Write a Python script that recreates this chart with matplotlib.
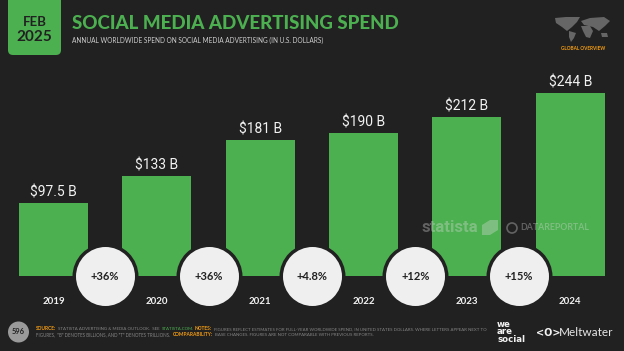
import matplotlib
matplotlib.use("Agg")
import matplotlib.pyplot as plt
import matplotlib.patches as mpatches

# data
years = ["2019", "2020", "2021", "2022", "2023", "2024"]
spend = [97.5, 133, 181, 190, 212, 244]
spend_labels = ["$97.5 B", "$133 B", "$181 B", "$190 B", "$212 B", "$244 B"]
growth_labels = ["+36%", "+36%", "+4.8%", "+12%", "+15%"]

BG = "#212121"
GREEN = "#4CAF50"
ORANGE = "#F39C12"
GREY = "#858585"
W, H = 624, 351
TITLE_FONT = ["Lato", "DejaVu Sans"]
NARROW_FONT = ["Roboto", "DejaVu Sans"]

fig = plt.figure(figsize=(W / 100, H / 100), dpi=100, facecolor=BG)

# page overlay in pixel coords, y down
page = fig.add_axes([0, 0, 1, 1], zorder=0)
page.set_xlim(0, W)
page.set_ylim(H, 0)
page.axis("off")

# chart axes: baseline at y=276, 0.752 px per billion
left, right, top, bottom = 1.75, 622, 50, 276
ax = fig.add_axes([left / W, 1 - bottom / H, (right - left) / W, (bottom - top) / H], zorder=1)
ax.patch.set_alpha(0)
ax.set_xlim(-0.5, 5.5)
ax.set_ylim(0, (bottom - top) / 0.752)
ax.axis("off")

x = list(range(len(years)))
ax.bar(x, spend, width=0.667, color=GREEN, zorder=2)

for i, (v, lab) in enumerate(zip(spend, spend_labels)):
    ax.annotate(lab, (i, v), xytext=(0, 2.5), textcoords="offset points", ha="center", va="bottom",
                color="#F2F2F2", fontsize=10, family=NARROW_FONT, clip_on=False)
    ax.annotate(years[i], (i, 0), xytext=(0, -18.5), textcoords="offset points", ha="center", va="center",
                color="#F2F2F2", fontsize=7, fontweight="bold", family=TITLE_FONT, annotation_clip=False)

mid = [i + 0.5 for i in x[:-1]]
ax.scatter(mid, [0] * len(mid), s=(2 * 33 * 0.72) ** 2, color=BG, zorder=3, clip_on=False, linewidths=0)
ax.scatter(mid, [0] * len(mid), s=(2 * 29.5 * 0.72) ** 2, color="#EFEFEF", zorder=4, clip_on=False, linewidths=0)
for m, lab in zip(mid, growth_labels):
    ax.annotate(lab, (m, 0), ha="center", va="center", color="#222222", fontsize=8,
                fontweight="bold", family=TITLE_FONT, zorder=5, annotation_clip=False)

# date badge
page.add_patch(mpatches.FancyBboxPatch((8, -20), 53, 75, boxstyle="round,pad=0,rounding_size=5",
                                       fc=GREEN, ec="none"))
page.text(34.5, 22, "FEB", ha="center", va="center", fontsize=9.5, fontweight="bold", color=BG, family=TITLE_FONT)
page.text(34.5, 37, "2025", ha="center", va="center", fontsize=11, fontweight="bold", color=BG, family=TITLE_FONT)

# heading
page.text(72, 23.5, "SOCIAL MEDIA ADVERTISING SPEND", ha="left", va="center", fontsize=13.5,
          fontweight="black", color=GREEN, family=TITLE_FONT)
page.text(72, 40, "ANNUAL WORLDWIDE SPEND ON SOCIAL MEDIA ADVERTISING (IN U.S. DOLLARS)", ha="left", va="center",
          fontsize=4.7, color="#CFCFCF", family=TITLE_FONT)

# rough world map
continents = [
    [(555, 18), (566, 17), (580, 17), (577, 22), (572, 27), (567, 31), (562, 27), (556, 23)],
    [(569, 31), (576, 33), (574, 38), (571, 42), (569, 37)],
    [(581, 21), (590, 18), (604, 17), (610, 21), (605, 26), (599, 31), (593, 27), (584, 25)],
    [(581, 26), (590, 26), (593, 31), (590, 38), (586, 37), (583, 31)],
    [(601, 33), (607, 33), (608, 37), (602, 37)],
]
for c in continents:
    page.add_patch(mpatches.Polygon(c, closed=True, fc="#666666", ec="none"))
page.text(583, 48, "GLOBAL OVERVIEW", ha="center", va="center", fontsize=3.4, fontweight="bold",
          color=ORANGE, family=TITLE_FONT)

# watermarks, above the bars
wm = fig.add_axes([0, 0, 1, 1], zorder=2)
wm.set_xlim(0, W)
wm.set_ylim(H, 0)
wm.axis("off")
wm.text(422, 227.5, "statista", ha="left", va="center", fontsize=12, fontweight="bold", color="#DDDDDD",
        alpha=0.35, family=NARROW_FONT)
wm.add_patch(mpatches.Polygon([(482, 235), (482, 225), (490, 220), (498, 220), (498, 230), (490, 235)],
                              closed=True, fc="#DDDDDD", ec="none", alpha=0.35))
wm.add_patch(mpatches.Circle((512, 228), 5, fc="none", ec="#DDDDDD", lw=1.2, alpha=0.35))
wm.text(520, 227, "DATAREPORTAL", ha="left", va="center", fontsize=6.3, fontweight="bold", color="#DDDDDD",
        alpha=0.35, family=TITLE_FONT)

# page number
page.add_patch(mpatches.Circle((18.5, 332), 10.5, fc="#9A9A9A", ec="none"))
page.text(18.5, 332, "596", ha="center", va="center", fontsize=5.4, fontweight="bold", color="#222222",
          family=TITLE_FONT)

# footer notes
foot = [
    (36, 329, "SOURCE:", ORANGE, True, 3.5),
    (58, 329, "STATISTA ADVERTISING & MEDIA OUTLOOK.  SEE", GREY, False, 3.2),
    (162, 329, "STATISTA.COM.", GREEN, False, 3.2),
    (195, 329, "NOTES:", ORANGE, True, 3.5),
    (214, 329, "FIGURES REFLECT ESTIMATES FOR FULL-YEAR WORLDWIDE SPEND, IN UNITED STATES DOLLARS. WHERE LETTERS APPEAR NEXT TO", GREY, False, 3.13),
    (36, 335, "FIGURES,  \"B\" DENOTES BILLIONS, AND \"T\" DENOTES TRILLIONS.", GREY, False, 3.25),
    (173, 335, "COMPARABILITY:", ORANGE, True, 3.5),
    (215, 335, "BASE CHANGES. FIGURES ARE NOT COMPARABLE WITH PREVIOUS REPORTS.", GREY, False, 3.2),
]
for fx, fy, txt, col, bold, fs in foot:
    page.text(fx, fy, txt, ha="left", va="center", fontsize=fs, color=col,
              fontweight="bold" if bold else "normal", family=TITLE_FONT)

# logos
for ly, word in zip([324.5, 332, 339.5], ["we", "are", "social"]):
    page.text(497, ly, word, ha="left", va="center", fontsize=6.2, fontweight="bold", color="#F2F2F2",
              family=["DejaVu Sans"], linespacing=1)
page.text(536, 332.5, "<O>", ha="left", va="center", fontsize=7, fontweight="bold", color="#F2F2F2",
          family=["DejaVu Sans"])
page.text(559, 332.5, "Meltwater", ha="left", va="center", fontsize=8.5, color="#E6E6E6", family=TITLE_FONT)

fig.savefig("out.png", dpi=100, facecolor=BG)
